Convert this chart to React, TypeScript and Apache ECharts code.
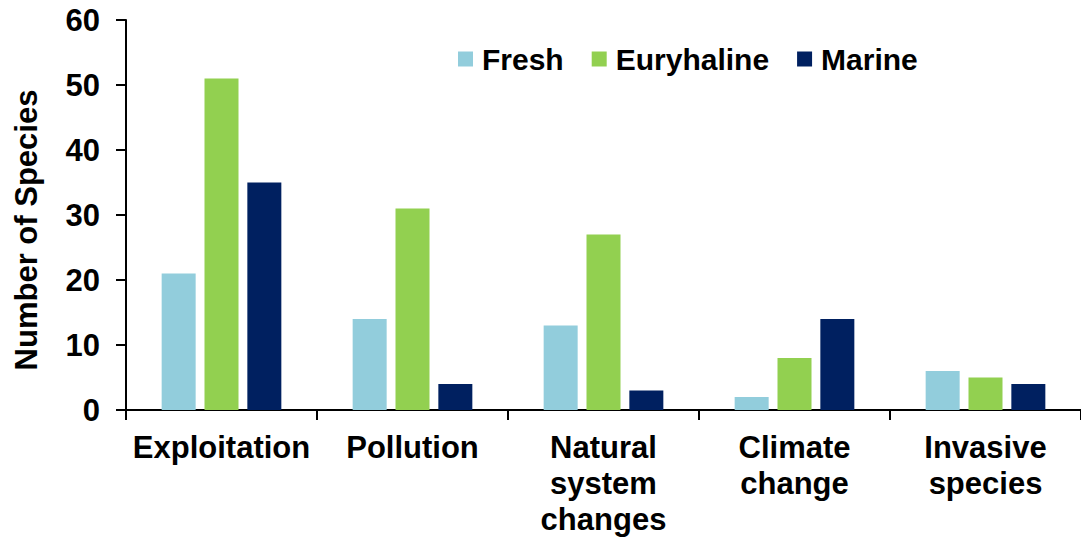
import React, { useEffect, useRef } from "react";
import * as echarts from "echarts";

const categories = [
  "Exploitation",
  "Pollution",
  "Natural\nsystem\nchanges",
  "Climate\nchange",
  "Invasive\nspecies",
];
const freshValues = [21, 14, 13, 2, 6];
const euryhalineValues = [51, 31, 27, 8, 5];
const marineValues = [35, 4, 3, 14, 4];
const seriesNames = ["Fresh", "Euryhaline", "Marine"];
const seriesColors = ["#92CDDC", "#92D050", "#002060"];

const FONT = "'Liberation Sans', Arial, sans-serif";

export default function App() {
  const ref = useRef<HTMLDivElement>(null);

  useEffect(() => {
    if (!ref.current) return;
    const chart = echarts.init(ref.current, null, { renderer: "svg" });
    const values = [freshValues, euryhalineValues, marineValues];
    chart.setOption({
      animation: false,
      backgroundColor: "#ffffff",
      grid: { left: 126, top: 20, width: 956, height: 390, containLabel: false },
      legend: {
        data: seriesNames,
        left: 458,
        top: 44,
        padding: 0,
        itemWidth: 15,
        itemHeight: 15,
        itemGap: 28,
        icon: "rect",
        textStyle: {
          fontFamily: FONT,
          fontWeight: "bold",
          fontSize: 30,
          color: "#000",
          padding: [0, 0, 0, 4],
        },
      },
      xAxis: {
        type: "category",
        data: categories,
        axisLine: { lineStyle: { color: "#000", width: 2 } },
        axisTick: { show: true, length: 10, lineStyle: { color: "#000", width: 2 } },
        axisLabel: {
          interval: 0,
          margin: 19,
          fontFamily: FONT,
          fontWeight: "bold",
          fontSize: 31,
          lineHeight: 36,
          color: "#000",
        },
      },
      yAxis: {
        type: "value",
        min: 0,
        max: 60,
        interval: 10,
        splitLine: { show: false },
        axisLine: { show: true, lineStyle: { color: "#000", width: 2 } },
        axisTick: { show: true, length: 10, lineStyle: { color: "#000", width: 2 } },
        axisLabel: {
          margin: 26,
          fontFamily: FONT,
          fontWeight: "bold",
          fontSize: 31,
          color: "#000",
        },
      },
      graphic: [
        {
          type: "text",
          x: 26,
          y: 230,
          rotation: Math.PI / 2,
          style: {
            text: "Number of Species",
            fontFamily: FONT,
            fontWeight: "bold",
            fontSize: 31,
            fill: "#000",
            textAlign: "center",
            textVerticalAlign: "middle",
          },
        },
      ],
      series: seriesNames.map((name, i) => ({
        name,
        type: "bar",
        data: values[i],
        barWidth: 34,
        barGap: "26%",
        itemStyle: { color: seriesColors[i] },
      })),
    });
    return () => chart.dispose();
  }, []);

  return (
    <div
      ref={ref}
      style={{ position: "absolute", left: 0, top: 0, width: 1081, height: 539 }}
    />
  );
}
